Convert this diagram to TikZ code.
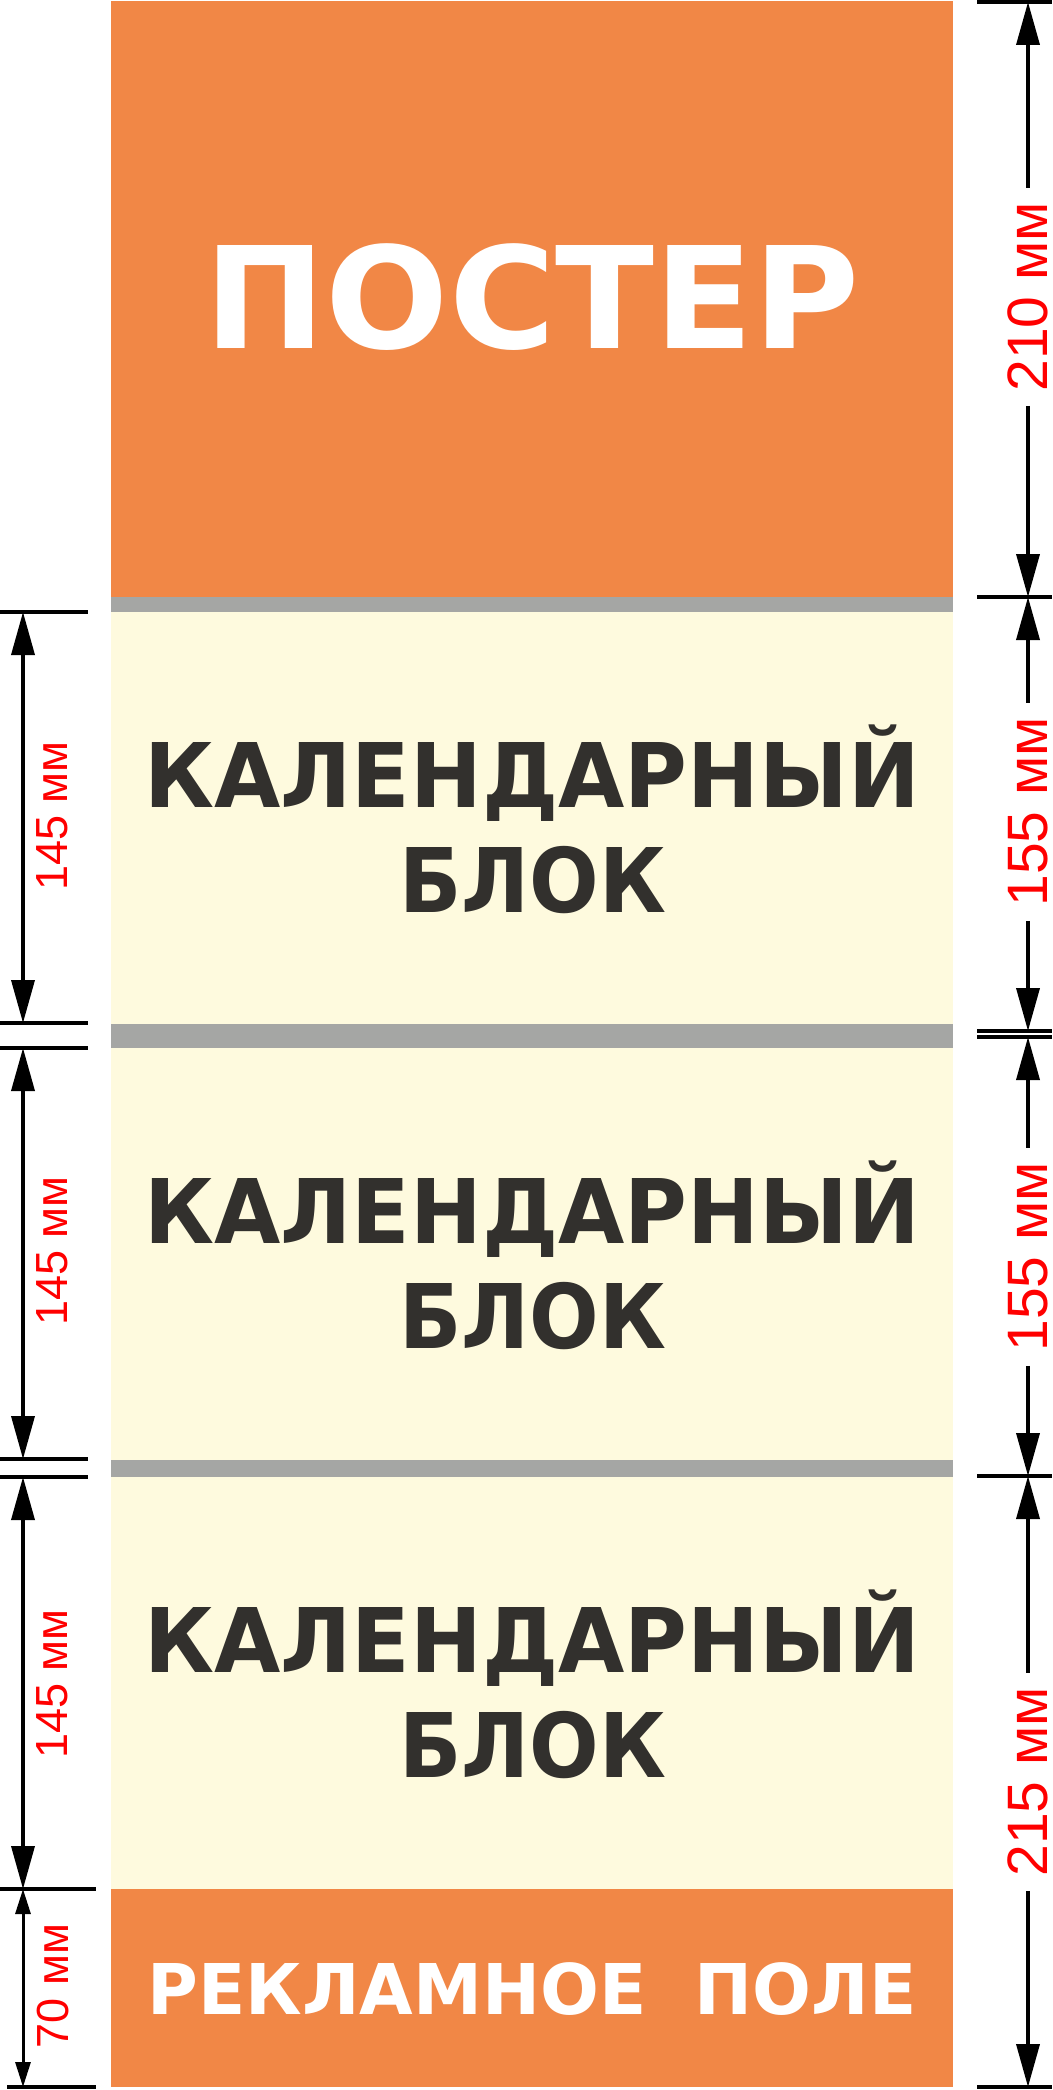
\documentclass[tikz,border=0pt]{standalone}
\usepackage{fontspec}
\setmainfont{DejaVu Sans}
\newfontfamily\dimfont{Liberation Sans}
\usetikzlibrary{arrows.meta}
\definecolor{panelorange}{RGB}{241,135,70}
\definecolor{panelcream}{RGB}{254,250,222}
\definecolor{panelgray}{RGB}{165,166,164}
\definecolor{textdark}{RGB}{50,48,45}
\definecolor{dimred}{RGB}{255,0,0}
\newcommand\fitbox[3]{\resizebox{#1}{#2}{\smash{#3}\vphantom{Н}}}
\begin{document}
\begin{tikzpicture}[x=1pt,y=-1pt,
  tickline/.style={line width=4pt},
  dimline/.style={line width=3.6pt},
  bigtip/.tip={Triangle[length=43pt,width=23pt]},
  smalltip/.tip={Triangle[length=25pt,width=15pt]},
  bigtext/.style={anchor=base,inner sep=0pt,font=\bfseries},
  rlabel/.style={rotate=90,anchor=base,inner xsep=14pt,inner ysep=0pt,text=dimred,
    font=\dimfont\fontsize{57pt}{57pt}\selectfont},
  llabel/.style={rotate=90,anchor=base,inner sep=0pt,text=dimred,
    font=\dimfont\fontsize{45pt}{45pt}\selectfont}]
\useasboundingbox (0,0) rectangle (1052,2090);
\fill[white] (0,0) rectangle (1052,2090);
% panels
\fill[panelorange] (111,1) rectangle (953,597);
\fill[panelgray] (111,597) rectangle (953,612);
\fill[panelcream] (111,612) rectangle (953,1024);
\fill[panelgray] (111,1024) rectangle (953,1048);
\fill[panelcream] (111,1048) rectangle (953,1460);
\fill[panelgray] (111,1460) rectangle (953,1477);
\fill[panelcream] (111,1477) rectangle (953,1889);
\fill[panelorange] (111,1889) rectangle (953,2087);
% texts
\node[bigtext,text=white] (poster) at (532,348) {\fitbox{655pt}{103pt}{ПОСТЕР}};
\node[bigtext,text=textdark] (cal1) at (532,807) {\fitbox{775pt}{65pt}{КАЛЕНДАРНЫЙ}};
\node[bigtext,text=textdark] (blok1) at (533,912) {\fitbox{267pt}{65pt}{БЛОК}};
\node[bigtext,text=textdark] (cal2) at (532,1243) {\fitbox{775pt}{65pt}{КАЛЕНДАРНЫЙ}};
\node[bigtext,text=textdark] (blok2) at (533,1348) {\fitbox{267pt}{65pt}{БЛОК}};
\node[bigtext,text=textdark] (cal3) at (532,1672) {\fitbox{775pt}{65pt}{КАЛЕНДАРНЫЙ}};
\node[bigtext,text=textdark] (blok3) at (533,1777) {\fitbox{267pt}{65pt}{БЛОК}};
\node[bigtext,text=white] (ad) at (532,2014) {\fitbox{769pt}{51pt}{РЕКЛАМНОЕ\hspace{0.7em}ПОЛЕ}};
% right dimension coordinates
\coordinate (r0) at (1028,2);
\coordinate (r1) at (1028,597);
\coordinate (r2a) at (1028,1031);
\coordinate (r2b) at (1028,1037);
\coordinate (r3) at (1028,1476);
\coordinate (r4) at (1028,2087);
\foreach \yy in {2,597,1031,1037,1476,2087}
  \draw[tickline] (977,\yy) -- (1052,\yy);
\node[rlabel] (d210) at (1047,297) {210 мм};
\node[rlabel] (d155a) at (1047,812) {155 мм};
\node[rlabel] (d155b) at (1047,1257) {155 мм};
\node[rlabel] (d215) at (1047,1782) {215 мм};
\draw[dimline,bigtip-] (r0) -- (r0 |- d210.east);
\draw[dimline,-bigtip] (r1 |- d210.west) -- (r1);
\draw[dimline,bigtip-] (r1) -- (r1 |- d155a.east);
\draw[dimline,-bigtip] (r2a |- d155a.west) -- (r2a);
\draw[dimline,bigtip-] (r2b) -- (r2b |- d155b.east);
\draw[dimline,-bigtip] (r3 |- d155b.west) -- (r3);
\draw[dimline,bigtip-] (r3) -- (r3 |- d215.east);
\draw[dimline,-bigtip] (r4 |- d215.west) -- (r4);
% left dimension coordinates
\coordinate (a0) at (23,612);
\coordinate (a1) at (23,1023);
\coordinate (a2) at (23,1048);
\coordinate (a3) at (23,1459);
\coordinate (a4) at (23,1477);
\coordinate (a5) at (23,1889);
\coordinate (a6) at (23,2087);
\foreach \yy in {612,1023,1048,1459,1477}
  \draw[tickline] (0,\yy) -- (88,\yy);
\draw[tickline] (0,1889) -- (96,1889);
\draw[tickline] (7,2087) -- (96,2087);
\draw[dimline,bigtip-bigtip] (a0) -- (a1);
\draw[dimline,bigtip-bigtip] (a2) -- (a3);
\draw[dimline,bigtip-bigtip] (a4) -- (a5);
\draw[line width=3pt,smalltip-smalltip] (a5) -- (a6);
\node[llabel] (m1) at (67,816) {145 мм};
\node[llabel] (m2) at (67,1251) {145 мм};
\node[llabel] (m3) at (67,1684) {145 мм};
\node[llabel] (m4) at (68,1986) {70 мм};
\end{tikzpicture}
\end{document}
